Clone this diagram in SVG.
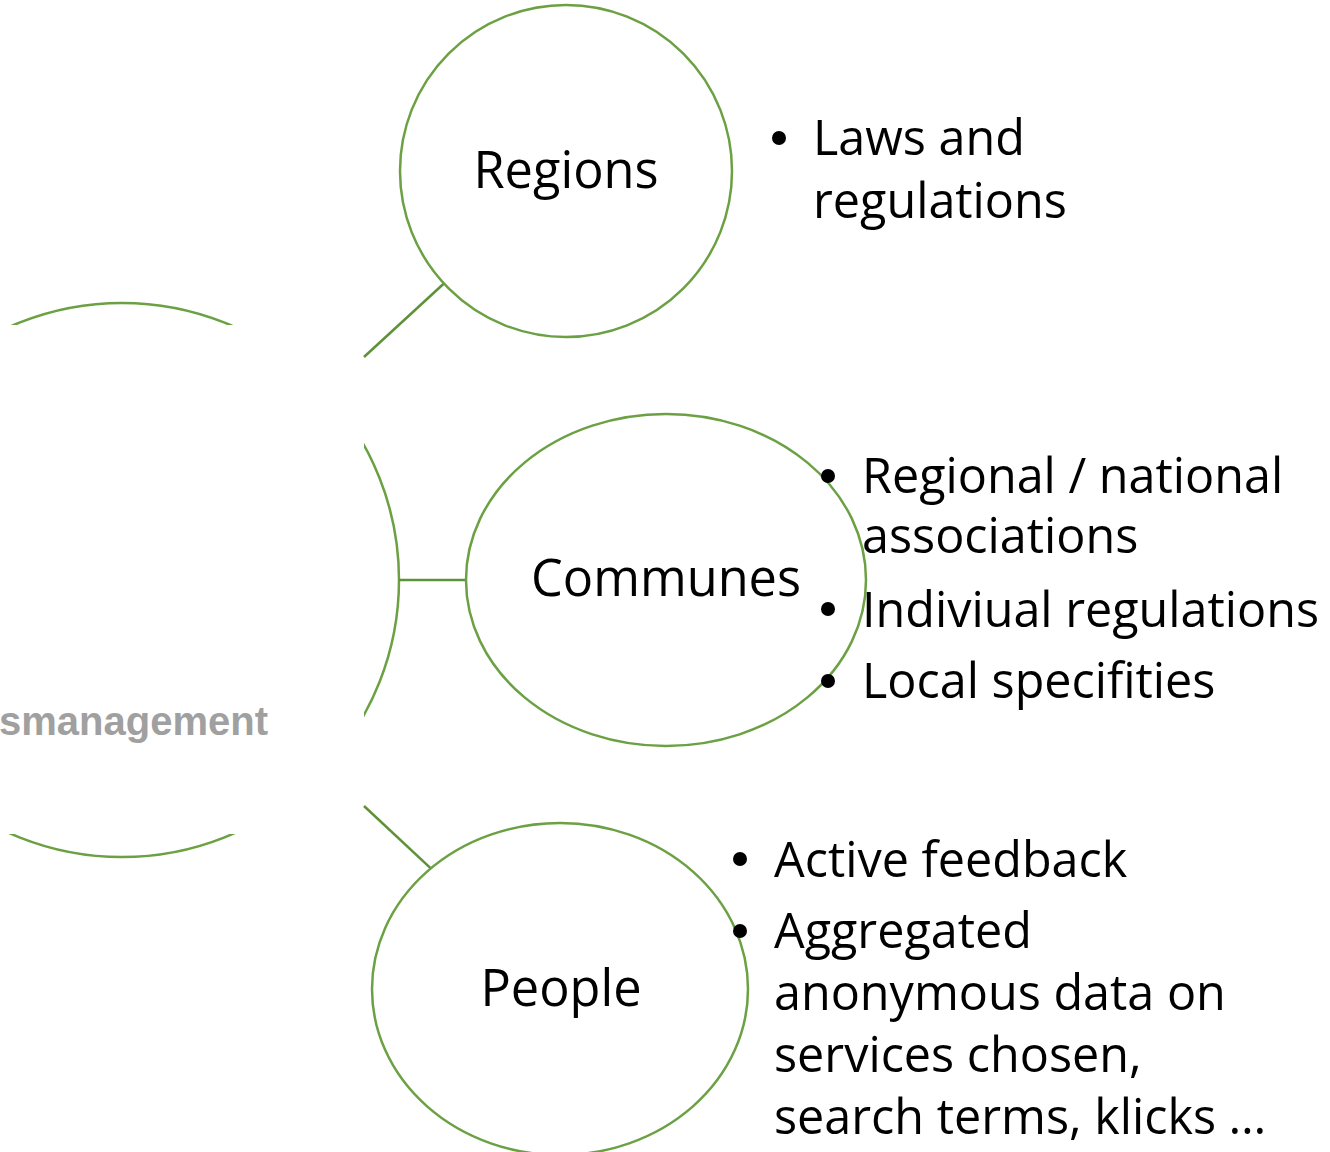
<svg xmlns="http://www.w3.org/2000/svg" width="1330" height="1152" viewBox="0 0 1330 1152">
<style>
.node{fill:none;stroke:#6BA043;stroke-width:2.5}
.conn{stroke:#5E9238;stroke-width:2.5;fill:none}
.lbl{font-family:"Open Sans","DejaVu Sans",sans-serif;font-size:48.5px;fill:#000}
.big{font-size:50.5px;text-anchor:middle}
.dot{fill:#000}
</style>
<defs>
<clipPath id="cut">
<path clip-rule="evenodd" d="M-200 0H1330V1152H-200Z M-200 325H364V834H-200Z"/>
</clipPath>
</defs>
<rect width="1330" height="1152" fill="#fff"/>
<g id="center">
<circle cx="122" cy="580" r="277" class="node" clip-path="url(#cut)"/>
<text x="268" y="735" text-anchor="end" font-family="'Liberation Sans',Arial,sans-serif" font-weight="bold" font-size="40" fill="#A0A0A0">smanagement</text>
</g>
<g id="connectors">
<line class="conn" x1="364" y1="357" x2="443.9" y2="283.5"/>
<line class="conn" x1="399" y1="580" x2="466" y2="580"/>
<line class="conn" x1="364" y1="806" x2="430.8" y2="868.4"/>
</g>
<g id="regions">
<circle class="node" cx="566" cy="171" r="166"/>
<text class="lbl big" x="566" y="188">Regions</text>
</g>
<g id="regions-notes">
<circle class="dot" cx="779" cy="138" r="7"/>
<text class="lbl" x="813" y="155">Laws and</text>
<text class="lbl" x="813" y="218">regulations</text>
</g>
<g id="communes">
<ellipse class="node" cx="666" cy="580" rx="200" ry="166"/>
<text class="lbl big" x="666" y="596">Communes</text>
</g>
<g id="communes-notes">
<circle class="dot" cx="828" cy="476" r="7"/>
<text class="lbl" x="862" y="493">Regional / national</text>
<text class="lbl" x="862" y="553">associations</text>
<circle class="dot" cx="828" cy="609" r="7"/>
<text class="lbl" x="862" y="627">Indiviual regulations</text>
<circle class="dot" cx="828" cy="681" r="7"/>
<text class="lbl" x="862" y="698">Local specifities</text>
</g>
<g id="people">
<ellipse class="node" cx="560" cy="989" rx="188" ry="166"/>
<text class="lbl big" x="561" y="1006">People</text>
</g>
<g id="people-notes">
<circle class="dot" cx="740" cy="859" r="7"/>
<text class="lbl" x="774" y="877">Active feedback</text>
<circle class="dot" cx="740" cy="931" r="7"/>
<text class="lbl" x="774" y="948">Aggregated</text>
<text class="lbl" x="774" y="1010">anonymous data on</text>
<text class="lbl" x="774" y="1072">services chosen,</text>
<text class="lbl" x="774" y="1134">search terms, klicks …</text>
</g>
</svg>
